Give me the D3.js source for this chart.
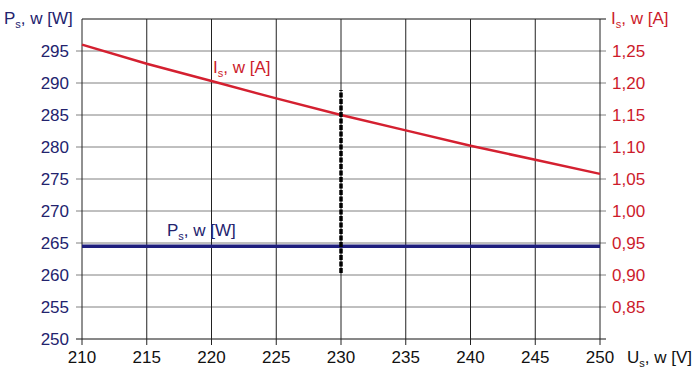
<!DOCTYPE html>
<html><head><meta charset="utf-8">
<script src="https://cdn.jsdelivr.net/npm/d3@7"></script>
<style>body{margin:0;background:#fff}svg{display:block;font-family:"Liberation Sans",Arial,sans-serif}</style>
</head><body><svg id="c" width="700" height="374"></svg>
<script>
const voltage = [210, 215, 220, 225, 230, 235, 240, 245, 250];
const current = [1.26, 1.23, 1.203, 1.176, 1.15, 1.126, 1.102, 1.08, 1.058];
const powerV = [210, 250];
const power = [264.5, 264.5];
const markerU = [230, 230];
const markerP = [260.3, 288.9];
const xTicks = [210, 215, 220, 225, 230, 235, 240, 245, 250];
const leftTicks = [250, 255, 260, 265, 270, 275, 280, 285, 290, 295];
const rightTicks = [0.85, 0.90, 0.95, 1.00, 1.05, 1.10, 1.15, 1.20, 1.25];

const svg = d3.select("#c");
const x = d3.scaleLinear().domain([210, 250]).range([82, 600]);
const yL = d3.scaleLinear().domain([250, 300]).range([339, 19]);
const yR = d3.scaleLinear().domain([0.80, 1.30]).range([339, 19]);
const navy = "#23236e", red = "#cc1b2b";
const fs = 17;

// horizontal grid
svg.append("g").selectAll("line").data(leftTicks.concat([300])).join("line")
  .attr("x1", d => d === 300 ? 82 : 76).attr("x2", 606)
  .attr("y1", d => yL(d)).attr("y2", d => yL(d))
  .attr("stroke", d => (d === 250 || d === 300) ? "#111" : "#808080").attr("stroke-width", 1);
// vertical grid
svg.append("g").selectAll("line").data(xTicks).join("line")
  .attr("x1", d => x(d)).attr("x2", d => x(d))
  .attr("y1", 19).attr("y2", 345)
  .attr("stroke", "#222").attr("stroke-width", 1);

// left labels
svg.append("g").selectAll("text").data(leftTicks).join("text")
  .attr("x", 69).attr("y", d => yL(d) + 6).attr("text-anchor", "end")
  .attr("font-size", fs).attr("fill", navy).text(d => d);
// right labels
svg.append("g").selectAll("text").data(rightTicks).join("text")
  .attr("x", 612).attr("y", d => yR(d) + 6).attr("text-anchor", "start")
  .attr("font-size", fs).attr("fill", red).text(d => d.toFixed(2).replace(".", ","));
// bottom labels
svg.append("g").selectAll("text").data(xTicks).join("text")
  .attr("x", d => x(d)).attr("y", 363).attr("text-anchor", "middle")
  .attr("font-size", fs).attr("fill", "#111").text(d => d);

// titles
function title(xp, yp, main, rest, color) {
  const t = svg.append("text").attr("x", xp).attr("y", yp).attr("font-size", fs)
    .attr("fill", color);
  t.append("tspan").text(main);
  t.append("tspan").attr("font-size", 11).attr("dy", 4).text("s");
  t.append("tspan").attr("dy", -4).text(rest);
}
title(4, 24, "P", ", w [W]", navy);
title(611, 24, "I", ", w [A]", red);
title(627, 363, "U", ", w [V]", "#111");
title(213, 73, "I", ", w [A]", red);
title(167, 236, "P", ", w [W]", navy);

// power line
svg.append("path").datum(powerV.map((v, i) => [v, power[i]]))
  .attr("d", d3.line().x(d => x(d[0])).y(d => yL(d[1])))
  .attr("fill", "none").attr("stroke", "#1f1f7e").attr("stroke-width", 3.5);
// current line
svg.append("path").datum(voltage.map((v, i) => [v, current[i]]))
  .attr("d", d3.line().x(d => x(d[0])).y(d => yR(d[1])))
  .attr("fill", "none").attr("stroke", "#d42030").attr("stroke-width", 2.5);
// marker
svg.append("path").datum(markerU.map((v, i) => [v, markerP[i]]))
  .attr("d", d3.line().x(d => x(d[0])).y(d => yL(d[1])))
  .attr("fill", "none").attr("stroke", "#000").attr("stroke-width", 3.5)
  .attr("stroke-dasharray", "5,1.5");
</script></body></html>
